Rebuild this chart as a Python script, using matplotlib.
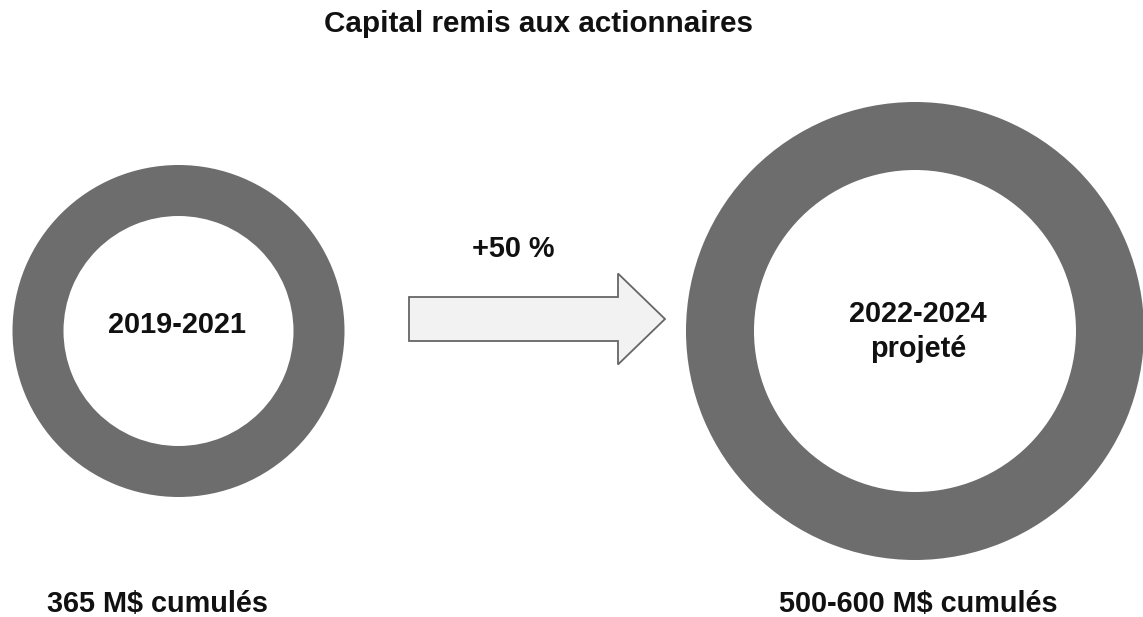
import matplotlib
matplotlib.use("Agg")
import matplotlib.pyplot as plt
import matplotlib.patches as mpatches

# ---- data ----
title = "Capital remis aux actionnaires"
periods = ["2019-2021", "2022-2024\nprojeté"]
amount_labels = ["365 M$ cumulés", "500-600 M$ cumulés"]
growth_label = "+50 %"
ring_values = [1, 1]

# ---- style / layout ----
plt.rcParams['font.family'] = ['Liberation Sans', 'DejaVu Sans']
W, H = 1143, 617
fig = plt.figure(figsize=(W / 100, H / 100), dpi=100)
ax = fig.add_axes([0, 0, 1, 1])

ring_color = "#6d6d6d"
centers = [(178.5, 331), (915, 331)]
outer_r = [166, 229]
inner_r = [115, 161]

for i in range(2):
    ax.pie([ring_values[i]], radius=outer_r[i], center=centers[i], colors=[ring_color],
           wedgeprops=dict(width=outer_r[i] - inner_r[i], linewidth=0), frame=True)

arrow = mpatches.FancyArrow(409, 319, 256, 0, width=44, head_width=91, head_length=47,
                            length_includes_head=True, facecolor="#f2f2f2",
                            edgecolor="#666666", linewidth=1.3)
ax.add_patch(arrow)

ax.set_xlim(0, W)
ax.set_ylim(H, 0)
ax.set_aspect('equal')
ax.axis('off')

fs = 20.8
kw = dict(ha='center', va='baseline', fontweight='bold', color='#111111')
ax.text(538.5, 32, title, fontsize=21.3, **kw)
ax.text(513, 257, growth_label, fontsize=fs, **kw)
ax.text(177, 333, periods[0], fontsize=fs, **kw)
ax.text(918, 357, periods[1], linespacing=1.31, fontsize=fs, **kw)
ax.text(157.5, 612, amount_labels[0], fontsize=fs, **kw)
ax.text(918.5, 612, amount_labels[1], fontsize=fs, **kw)

fig.savefig("out.png", dpi=100)
